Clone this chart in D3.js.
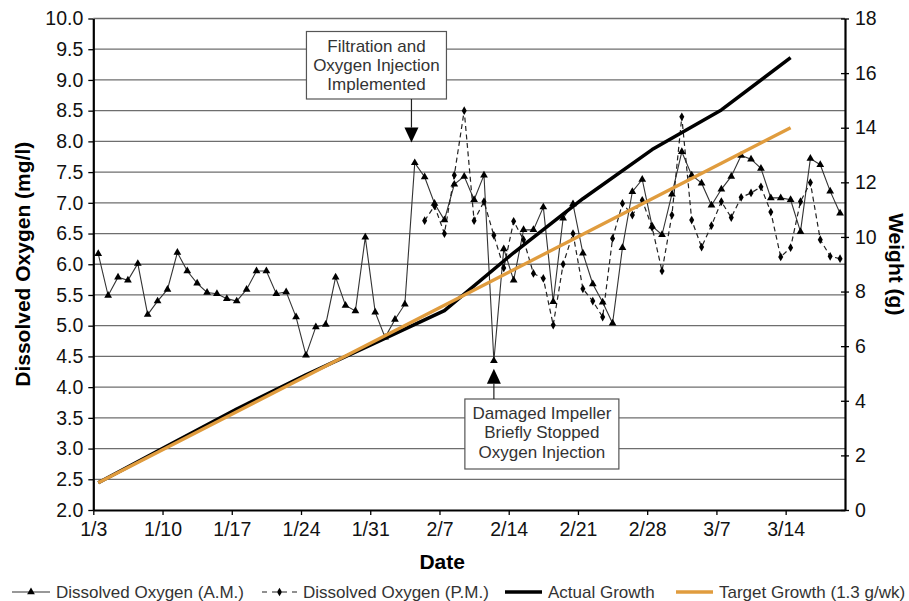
<!DOCTYPE html>
<html>
<head>
<meta charset="utf-8">
<script src="https://cdn.jsdelivr.net/npm/d3@7"></script>
<style>
  body { margin: 0; background: #fff; }
  text { font-family: "Liberation Sans", Arial, sans-serif; }
</style>
</head>
<body>
<svg id="chart" width="909" height="601"></svg>
<script>
// dates are M/D strings, all in one (non leap) year
var year = 2007;
var parseDay = d3.utcParse("%m/%d/%Y");
function toDate(s) { return parseDay(s + "/" + year); }

// x axis tick labels (one a week)
var weekLabels = ["1/3", "1/10", "1/17", "1/24", "1/31", "2/7", "2/14", "2/21", "2/28", "3/7", "3/14"];

// daily readings 1/3 .. 3/19
var oxygenDays = d3.utcDay.range(toDate("1/3"), toDate("3/20"));
var oxygenAM = [
  6.17, 5.49, 5.79, 5.74, 6.01, 5.18, 5.40, 5.59, 6.19, 5.89,
  5.69, 5.54, 5.52, 5.44, 5.40, 5.59, 5.89, 5.89, 5.52, 5.55,
  5.14, 4.52, 4.98, 5.02, 5.79, 5.33, 5.24, 6.44, 5.22, 4.81,
  5.10, 5.35, 7.65, 7.42, 6.99, 6.72, 7.30, 7.43, 7.05, 7.45,
  4.43, 6.25, 5.74, 6.56, 6.56, 6.93, 5.39, 6.75, 6.98, 6.18,
  5.68, 5.38, 5.04, 6.27, 7.18, 7.38, 6.62, 6.48, 7.14, 7.83,
  7.45, 7.32, 6.96, 7.22, 7.43, 7.77, 7.71, 7.56, 7.08, 7.08,
  7.05, 6.53, 7.72, 7.62, 7.19, 6.83
];
// afternoon readings start 2/5
var pmStart = "2/5";
var oxygenPM = [
  6.71, 6.95, 6.50, 7.45, 8.50, 6.71, 7.02, 6.47, 5.94, 6.70,
  6.40, 5.85, 5.77, 5.01, 6.00, 6.50, 5.60, 5.40, 5.14, 6.42,
  6.99, 6.80, 7.04, 6.60, 5.89, 6.80, 8.40, 6.72, 6.28, 6.63,
  7.02, 6.76, 7.09, 7.16, 7.26, 6.85, 6.12, 6.27, 7.02, 7.33,
  6.40, 6.13, 6.09
];
// weekly weights (g), 1/3 .. 3/14
var actualGrowth = [1.0, 2.35, 3.7, 4.95, 6.12, 7.3, 9.42, 11.4, 13.2, 14.65, 16.57];
var targetGrowth = [1.0, 2.3, 3.6, 4.9, 6.2, 7.5, 8.8, 10.1, 11.4, 12.7, 14.0];

var legendLabels = ["Dissolved Oxygen (A.M.)", "Dissolved Oxygen (P.M.)", "Actual Growth", "Target Growth (1.3 g/wk)"];

var plot = {left: 93.3, right: 845, top: 18.5, bottom: 510};
var orange = "#e09c3e";

var svg = d3.select("#chart");

var xScale = d3.scaleUtc()
    .domain([toDate("1/3"), toDate("3/20")])
    .range([plot.left, plot.right]);
// each reading sits in the middle of its day
function xMid(d) { return xScale(d3.utcHour.offset(d, 12)); }

var yOxy = d3.scaleLinear().domain([2, 10]).range([plot.bottom, plot.top]);
var yWeight = d3.scaleLinear().domain([0, 18]).range([plot.bottom, plot.top]);

// gridlines
svg.append("g")
  .selectAll("line")
  .data(d3.range(2.5, 10.01, 0.5))
  .enter().append("line")
    .attr("x1", plot.left).attr("x2", plot.right)
    .attr("y1", function(d) { return yOxy(d); })
    .attr("y2", function(d) { return yOxy(d); })
    .attr("stroke", "#6e6e6e")
    .attr("stroke-width", 1.3);

// axes
var xAxis = svg.append("g")
    .attr("transform", "translate(0," + plot.bottom + ")")
    .call(d3.axisBottom(xScale)
      .tickValues(weekLabels.map(toDate))
      .tickFormat(function(d, i) { return weekLabels[i]; })
      .tickSize(5).tickPadding(7).tickSizeOuter(0));

var yAxisL = svg.append("g")
    .attr("transform", "translate(" + plot.left + ",0)")
    .call(d3.axisLeft(yOxy).tickValues(d3.range(2, 10.01, 0.5))
      .tickFormat(d3.format(".1f")).tickSize(5).tickPadding(5).tickSizeOuter(0));

var yAxisR = svg.append("g")
    .attr("transform", "translate(" + plot.right + ",0)")
    .call(d3.axisRight(yWeight).tickValues(d3.range(0, 18.1, 2))
      .tickSize(4).tickPadding(6).tickSizeOuter(0));
yAxisR.selectAll(".tick line").attr("x1", -4);

[xAxis, yAxisL, yAxisR].forEach(function(a) {
  a.selectAll(".domain").attr("stroke", "#000").attr("stroke-width", 2.2);
  a.selectAll(".tick line").attr("stroke", "#000").attr("stroke-width", 1.3);
  a.selectAll(".tick text").attr("font-size", 19.5).attr("fill", "#111")
    .attr("font-family", "Liberation Sans, Arial, sans-serif");
});

// A.M. oxygen
var amLine = d3.line()
    .x(function(d, i) { return xMid(oxygenDays[i]); })
    .y(function(d) { return yOxy(d); });
svg.append("path")
    .datum(oxygenAM)
    .attr("d", amLine)
    .attr("fill", "none")
    .attr("stroke", "#333")
    .attr("stroke-width", 1.1);

// P.M. oxygen
var pmOffset = d3.utcDay.count(toDate("1/3"), toDate(pmStart));
var pmLine = d3.line()
    .x(function(d, i) { return xMid(oxygenDays[i + pmOffset]); })
    .y(function(d) { return yOxy(d); });
svg.append("path")
    .datum(oxygenPM)
    .attr("d", pmLine)
    .attr("fill", "none")
    .attr("stroke", "#222")
    .attr("stroke-width", 1.2)
    .attr("stroke-dasharray", "5,3.5");

var triangle = d3.symbol().type(d3.symbolTriangle).size(26);
var diamond = d3.symbol().type(d3.symbolDiamond).size(22);

svg.selectAll(".am")
    .data(oxygenAM)
    .enter().append("path")
    .attr("class", "am")
    .attr("d", triangle)
    .attr("transform", function(d, i) { return "translate(" + xMid(oxygenDays[i]) + "," + yOxy(d) + ")"; })
    .attr("fill", "#000");

svg.selectAll(".pm")
    .data(oxygenPM)
    .enter().append("path")
    .attr("class", "pm")
    .attr("d", diamond)
    .attr("transform", function(d, i) { return "translate(" + xMid(oxygenDays[i + pmOffset]) + "," + yOxy(d) + ")"; })
    .attr("fill", "#000");

// growth lines on the right axis
var growthLine = d3.line()
    .x(function(d, i) { return xMid(toDate(weekLabels[i])); })
    .y(function(d) { return yWeight(d); });

svg.append("path")
    .datum(actualGrowth)
    .attr("d", growthLine)
    .attr("fill", "none")
    .attr("stroke", "#000")
    .attr("stroke-width", 3.5)
    .attr("stroke-linejoin", "round");

svg.append("path")
    .datum(targetGrowth)
    .attr("d", growthLine)
    .attr("fill", "none")
    .attr("stroke", orange)
    .attr("stroke-width", 3.3);

// axis titles
svg.append("text")
    .attr("x", (plot.left + plot.right) / 2 - 27)
    .attr("y", 569)
    .attr("text-anchor", "middle")
    .attr("font-size", 21).attr("font-weight", "bold")
    .text("Date");

svg.append("text")
    .attr("transform", "translate(30," + (plot.top + plot.bottom) / 2 + ") rotate(-90)")
    .attr("text-anchor", "middle")
    .attr("font-size", 21).attr("font-weight", "bold")
    .text("Dissolved Oxygen (mg/l)");

svg.append("text")
    .attr("transform", "translate(889," + (plot.top + plot.bottom) / 2 + ") rotate(90)")
    .attr("text-anchor", "middle")
    .attr("font-size", 21).attr("font-weight", "bold")
    .text("Weight (g)");

// annotations
function annotate(lines, tipX, tipY, box, down) {
  var g = svg.append("g");
  g.append("rect")
    .attr("x", box.x).attr("y", box.y)
    .attr("width", box.w).attr("height", box.h)
    .attr("fill", "#fff").attr("stroke", "#555").attr("stroke-width", 1.2);
  lines.forEach(function(t, i) {
    g.append("text")
      .attr("x", box.x + box.w / 2)
      .attr("y", box.y + 20 + i * 19.4)
      .attr("text-anchor", "middle")
      .attr("font-size", 17).attr("fill", "#333")
      .text(t);
  });
  var base = down ? tipY - 15 : tipY + 15;
  var boxEdge = down ? box.y + box.h : box.y;
  g.append("line")
    .attr("x1", tipX).attr("x2", tipX)
    .attr("y1", boxEdge).attr("y2", base)
    .attr("stroke", "#222").attr("stroke-width", 1.2);
  g.append("path")
    .attr("d", "M" + (tipX - 7) + "," + base + "L" + (tipX + 7) + "," + base + "L" + tipX + "," + tipY + "Z")
    .attr("fill", "#000");
}

var tip1X = xScale(d3.utcHour.offset(toDate("2/4"), 4));
annotate(["Filtration and", "Oxygen Injection", "Implemented"],
  tip1X, yOxy(7.98), {x: tip1X - 105, y: 31.5, w: 140, h: 67.5}, true);

var tip2X = xMid(toDate("2/12"));
annotate(["Damaged Impeller", "Briefly Stopped", "Oxygen Injection"],
  tip2X, yOxy(4.3), {x: tip2X - 29, y: 399, w: 154, h: 70}, false);

// legend
var legendY = 592;
var legendX = [12, 262, 505, 676];
var legendW = [38, 35, 37, 37];
legendLabels.forEach(function(label, i) {
  var g = svg.append("g");
  var x0 = legendX[i], x1 = legendX[i] + legendW[i];
  var line = g.append("line")
    .attr("x1", x0).attr("x2", x1)
    .attr("y1", legendY).attr("y2", legendY);
  if (i === 0) {
    line.attr("stroke", "#333").attr("stroke-width", 1.1);
    g.append("path").attr("d", triangle)
      .attr("transform", "translate(" + (x0 + x1) / 2 + "," + legendY + ")");
  } else if (i === 1) {
    line.attr("stroke", "#222").attr("stroke-width", 1.2).attr("stroke-dasharray", "5,5");
    g.append("path").attr("d", diamond)
      .attr("transform", "translate(" + (x0 + x1) / 2 + "," + legendY + ")");
  } else if (i === 2) {
    line.attr("stroke", "#000").attr("stroke-width", 3.5);
  } else {
    line.attr("stroke", orange).attr("stroke-width", 3.5);
  }
  g.append("text")
    .attr("x", x1 + 6)
    .attr("y", legendY + 6)
    .attr("font-size", 17).attr("fill", "#333")
    .text(label);
});
</script>
</body>
</html>
